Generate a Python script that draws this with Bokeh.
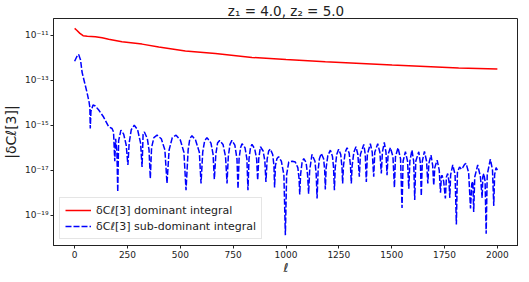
from bokeh.plotting import figure
from bokeh.models import Range1d, FixedTicker, CustomJSTickFormatter, Legend, LegendItem
from bokeh.embed import file_html
from bokeh.resources import INLINE

# ---- data ----
title_text = "z\u2081 = 4.0, z\u2082 = 5.0"
x_label = "\u2113"
y_label = "|\u03b4C\u2113[3]|"
label_dom = "\u03b4C\u2113[3] dominant integral"
label_sub = "\u03b4C\u2113[3] sub-dominant integral"

x_ticks = [0, 250, 500, 750, 1000, 1250, 1500, 1750, 2000]
y_ticks = [1e-19, 1e-17, 1e-15, 1e-13, 1e-11]
y_tick_labels = ["10\u207b\u00b9\u2079", "10\u207b\u00b9\u2077", "10\u207b\u00b9\u2075",
                 "10\u207b\u00b9\u00b3", "10\u207b\u00b9\u00b9"]

dom_ell = [0, 10, 25, 40, 60, 98, 130, 161, 224, 319, 398, 524, 666, 839, 1000,
           1186, 1502, 1817, 2000]
dom_val = [2.0e-11, 1.66e-11, 1.2e-11, 9.5e-12, 8.9e-12, 8.5e-12, 7.6e-12, 6.6e-12,
           5.1e-12, 4.0e-12, 3.0e-12, 2.0e-12, 1.55e-12, 1.02e-12, 8.3e-13,
           6.6e-13, 4.7e-13, 3.5e-13, 3.1e-13]

sub_ell = [0, 10, 19, 28, 35, 47, 58, 68, 72, 74, 77, 87, 98, 114, 137, 161, 177, 184,
           190, 194, 200, 204, 208, 219, 232, 244, 252, 258, 268, 282, 298, 312, 319,
           324, 330, 344, 352, 358, 364, 375, 390, 410, 427, 437, 447, 462, 480, 500,
           517, 527, 537, 545, 555, 572, 590, 598, 606, 615, 626, 645, 655, 661, 668,
           676, 686, 702, 714, 721, 727, 735, 744, 758, 768, 773, 778, 785, 792, 806,
           815, 820, 825, 832, 839, 852, 861, 866, 871, 879, 892, 900, 905, 911, 918,
           926, 937, 943, 946, 950, 957, 965, 978, 990, 997, 1003, 1013, 1030, 1044,
           1056, 1062, 1065, 1069, 1076, 1084, 1095, 1102, 1107, 1112, 1123, 1137,
           1143, 1147, 1152, 1158, 1167, 1178, 1183, 1186, 1190, 1198, 1210, 1220,
           1225, 1229, 1233, 1240, 1249, 1259, 1265, 1268, 1272, 1280, 1289, 1299,
           1305, 1309, 1313, 1321, 1331, 1340, 1347, 1352, 1368, 1375, 1380, 1385,
           1399, 1408, 1415, 1420, 1434, 1444, 1451, 1456, 1465, 1473, 1478, 1483,
           1494, 1506, 1513, 1518, 1530, 1542, 1549, 1554, 1565, 1575, 1581, 1586,
           1596, 1604, 1609, 1614, 1628, 1636, 1640, 1645, 1655, 1665, 1671, 1676,
           1686, 1694, 1699, 1704, 1715, 1725, 1731, 1735, 1738, 1746, 1754, 1759,
           1765, 1771, 1775, 1779, 1789, 1800, 1806, 1811, 1821, 1830, 1836, 1845,
           1852, 1864, 1873, 1879, 1884, 1888, 1893, 1907, 1920, 1928, 1931, 1936,
           1942, 1947, 1952, 1967, 1977, 1983, 1987, 1994, 2000]
sub_val = [6.9e-13, 1.1e-12, 1.4e-12, 7.9e-13, 2.3e-13, 7.9e-14, 3.0e-14, 1.1e-14,
           6.3e-15, 7.1e-16, 4.0e-15, 7.9e-15, 7.1e-15, 4.7e-15, 2.3e-15, 8.5e-16,
           7.1e-16, 5.0e-16,
           2.5e-17, 2.5e-16, 6.3e-17, 1.1e-18, 2.0e-16, 6.0e-16, 4.0e-16, 1.3e-16,
           1.7e-17, 1.6e-16, 6.3e-16, 1.0e-15, 6.3e-16, 1.6e-16, 1.4e-17,
           4.0e-16, 5.0e-16, 2.5e-16, 7.9e-17, 4.3e-18, 1.0e-16, 2.8e-16, 3.6e-16,
           2.5e-16, 7.9e-17, 2.6e-18, 7.9e-17, 2.8e-16, 3.6e-16, 2.2e-16,
           6.3e-17, 1.3e-18, 7.9e-17, 2.5e-16, 3.4e-16, 2.2e-16, 6.3e-17, 2.6e-18,
           6.3e-17, 2.0e-16, 2.8e-16, 1.6e-16, 5.0e-17, 4.0e-18, 5.0e-17,
           1.6e-16, 2.1e-16, 1.4e-16, 4.0e-17, 2.6e-18, 4.0e-17, 1.4e-16, 2.1e-16,
           1.3e-16, 3.2e-17, 1.5e-18, 3.2e-17, 1.0e-16, 1.5e-16, 1.0e-16,
           3.2e-17, 1.3e-18, 3.2e-17, 1.0e-16, 1.4e-16, 8.9e-17, 3.2e-17, 3.6e-18,
           3.2e-17, 1.1e-16, 7.1e-17, 2.5e-17, 3.0e-18, 3.2e-17, 7.1e-17,
           8.7e-17, 5.0e-17, 1.6e-17, 1.7e-18, 1.6e-17, 3.2e-17, 4.0e-17, 2.5e-17,
           6.3e-18, 1.3e-20, 6.3e-18, 2.3e-17, 2.5e-17, 2.3e-17,
           1.3e-17, 4.0e-18, 8.3e-19, 6.3e-18, 2.2e-17, 3.3e-17, 2.2e-17, 6.3e-18,
           9.1e-19, 1.0e-17, 5.0e-17, 2.5e-17,
           6.3e-18, 5.5e-19, 1.0e-17, 3.2e-17, 5.5e-17, 3.2e-17, 1.0e-17, 1.4e-18,
           1.3e-17, 4.5e-17, 7.8e-17, 4.0e-17,
           1.3e-17, 1.3e-18, 1.3e-17, 5.0e-17, 8.5e-17, 5.0e-17, 1.3e-17, 2.6e-18,
           1.6e-17, 6.3e-17, 1.0e-16, 5.6e-17,
           1.6e-17, 2.6e-18, 1.6e-17, 6.3e-17, 1.1e-16, 5.0e-17, 5.1e-18, 5.0e-17,
           1.4e-16, 5.0e-17, 3.0e-18, 5.0e-17,
           1.5e-16, 6.3e-17, 5.1e-18, 6.3e-17, 1.5e-16, 6.3e-17, 7.1e-18, 6.3e-17,
           1.7e-16, 6.3e-17, 6.0e-18, 5.0e-17,
           1.0e-16, 4.0e-17, 1.7e-18, 4.0e-17, 1.0e-16, 3.2e-17, 2.1e-19, 2.5e-17,
           6.6e-17, 2.5e-17, 1.5e-18, 2.5e-17,
           7.8e-17, 2.5e-17, 4.7e-19, 2.5e-17, 6.6e-17, 2.0e-17, 7.2e-19, 2.5e-17,
           6.9e-17, 2.5e-17, 2.6e-18, 2.0e-17,
           4.7e-17, 1.6e-17, 2.1e-18, 1.3e-17, 2.8e-17, 1.0e-17, 1.0e-18, 5.0e-18,
           6.0e-18, 3.2e-18, 5.5e-19, 5.0e-18,
           7.1e-18, 3.2e-18, 5.9e-19, 6.3e-18, 1.7e-17, 6.3e-18, 3.9e-20, 7.9e-18,
           1.4e-17, 1.1e-17, 1.3e-17, 1.8e-17,
           2.0e-17, 7.9e-18, 2.0e-19, 2.5e-18, 3.2e-18, 1.4e-19, 5.0e-18, 1.7e-17,
           5.0e-18, 5.9e-19, 5.0e-18, 7.1e-18,
           3.2e-18, 1.5e-20, 6.3e-18, 3.1e-17, 1.0e-17, 2.6e-19, 6.3e-18, 1.3e-17,
           1.0e-17]

FONT = "DejaVu Sans"

p = figure(frame_width=465, frame_height=227, y_axis_type="log",
           x_range=Range1d(-100, 2100), y_range=Range1d(4.5e-21, 5.5e-11),
           output_backend="svg", toolbar_location=None,
           min_border_left=48, min_border_right=0, min_border_top=18,
           min_border_bottom=21)

p.title.text = title_text
p.title.align = "center"
p.title.text_font = FONT
p.title.text_font_size = "13.5px"
p.title.text_font_style = "normal"
p.title.text_color = "#222222"
p.title.standoff = 0
p.title.offset = 0

p.xgrid.visible = False
p.ygrid.visible = False
p.outline_line_color = "#222222"
p.outline_line_width = 1
p.background_fill_color = "white"
p.border_fill_color = "white"

r_dom = p.line(dom_ell, dom_val, line_color="#ff0000", line_width=1.5)
r_sub = p.line(sub_ell, sub_val, line_color="#0000ff", line_width=1.5, line_dash="6 2")

for ax in (p.xaxis[0], p.yaxis[0]):
    ax.axis_line_color = "#222222"
    ax.major_tick_line_color = "#222222"
    ax.major_tick_out = 3
    ax.major_tick_in = 0
    ax.minor_tick_line_color = None
    ax.major_label_text_font = FONT
    ax.major_label_text_font_size = "9px"
    ax.major_label_text_color = "#222222"
    ax.axis_label_text_font = FONT
    ax.axis_label_text_color = "#222222"
    ax.major_label_standoff = 2

p.xaxis.ticker = FixedTicker(ticks=x_ticks)
p.yaxis.ticker = FixedTicker(ticks=y_ticks)
p.yaxis.formatter = CustomJSTickFormatter(
    args=dict(tvals=y_ticks, tlabels=y_tick_labels),
    code="""
let best = 0, bd = 1e9;
for (let i = 0; i < tvals.length; i++) {
  const d = Math.abs(Math.log10(tick) - Math.log10(tvals[i]));
  if (d < bd) { bd = d; best = i; }
}
return tlabels[best];
""")

p.xaxis.axis_label = x_label
p.xaxis.axis_label_text_font_size = "12px"
p.xaxis.axis_label_text_font_style = "italic"
p.xaxis.axis_label_standoff = 0
p.xaxis.major_label_standoff = 2
p.yaxis.axis_label = y_label
p.yaxis.axis_label_text_font_size = "14px"
p.yaxis.axis_label_text_font_style = "normal"
p.yaxis.axis_label_standoff = 3

legend = Legend(items=[LegendItem(label=label_dom, renderers=[r_dom]),
                       LegendItem(label=label_sub, renderers=[r_sub])],
                location="bottom_left")
legend.label_text_font = FONT
legend.label_text_font_size = "11px"
legend.label_text_color = "#222222"
legend.glyph_width = 26
legend.glyph_height = 14
legend.label_height = 14
legend.spacing = 2
legend.padding = 5
legend.margin = 6
legend.border_line_color = "#cccccc"
legend.border_line_width = 1
legend.background_fill_alpha = 0.85
p.add_layout(legend)

open("out.html", "w").write(file_html(p, INLINE))
